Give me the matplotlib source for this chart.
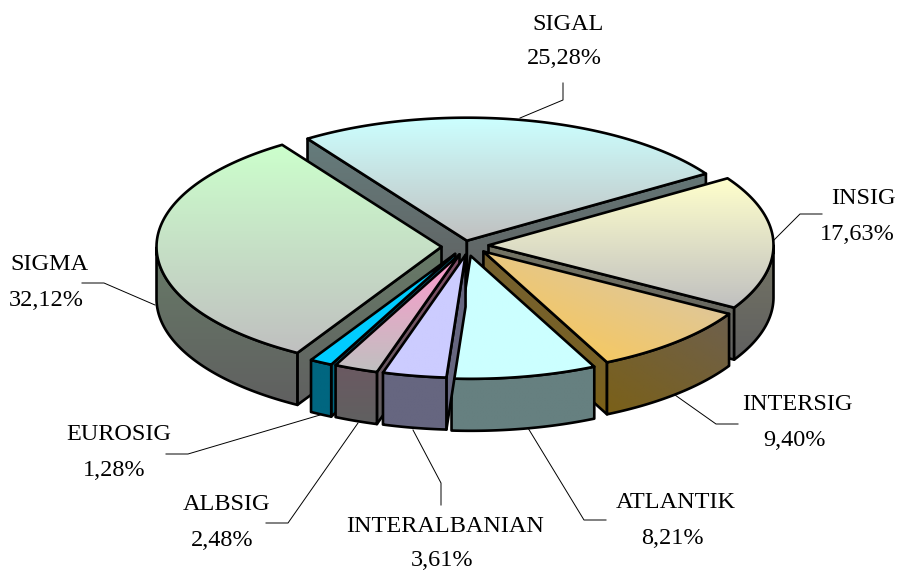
import numpy as np
import matplotlib
matplotlib.use("Agg")
import matplotlib.pyplot as plt
from matplotlib.patches import Polygon

names = ["SIGAL", "INSIG", "INTERSIG", "ATLANTIK", "INTERALBANIAN", "ALBSIG", "EUROSIG", "SIGMA"]
shares = [25.28, 17.63, 9.40, 8.21, 3.61, 2.48, 1.28, 32.12]

# couleurs : dessus (haut, bas), cote (haut, bas)
top_c1 = ["#CCFFFF", "#FFFFCC", "#D4C6B4", "#CCFFFF", "#CCCCFF", "#FF99CC", "#00CCFF", "#CCFFCC"]
top_c2 = ["#C0C0C0", "#C0C0C0", "#FFC94A", "#CCFFFF", "#CCCCFF", "#C0C0C0", "#00CCFF", "#C0C0C0"]
side_c1 = ["#668080", "#808066", "#6A6060", "#668080", "#666680", "#804C66", "#006680", "#6C8C6C"]
side_c2 = ["#606060", "#606060", "#806000", "#668080", "#666680", "#606060", "#006680", "#606060"]
diagonal = ["INTERSIG"]

# decalage de chaque part par rapport a l'eclatement commun
shift_x = [-1, 3, 5, 3, 6, 4, 2, 0]
shift_y = [3.5, -1, -2, 0, -1, -1, -1, 0]

# position des textes (nom, pourcentage)
name_pos = [(568, 24), (863, 199), (797, 404), (676, 503), (445, 527), (227, 505), (119, 435), (49, 264)]
pct_pos = [(564, 59), (857, 235), (794, 441), (672, 539), (442, 560), (222, 541), (114, 470), (46, 300)]
leaders = [
    [(520, 118), (563, 100), (563, 83)],
    [(773, 241), (800, 214), (822, 214)],
    [(675, 395), (716, 424), (738, 424)],
    [(528, 428), (584, 520), (606, 520)],
    [(413, 430), (441, 483), (441, 505)],
    [(358, 423), (288, 523), (266, 523)],
    [(320, 415), (188, 454), (166, 454)],
    [(155, 305), (104, 283), (82, 283)],
]

cx, cy = 463.5, 246.5
rx, ry = 285, 123
depth = 52
explode = 22
start = 124

fig = plt.figure(figsize=(8.97, 5.71), dpi=100)
ax = fig.add_axes([0, 0, 1, 1])
ax.axis("off")
ax.set_xlim(0, 897)
ax.set_ylim(571, 0)
ax.set_autoscale_on(False)


def rgb(c):
    return np.array(matplotlib.colors.to_rgb(c))


def fill(verts, c1, c2, diag, box, z):
    verts = np.array(verts)
    x0, y0, x1, y1 = box
    v, u = np.mgrid[0:1:64j, 0:1:64j]
    t = (v + 1 - u) / 2 if diag else v
    img = rgb(c1)[None, None, :] * (1 - t[..., None]) + rgb(c2)[None, None, :] * t[..., None]
    im = ax.imshow(img, extent=(x0, x1, y1, y0), origin="upper", aspect="auto",
                   interpolation="bilinear", zorder=z)
    edge = Polygon(verts, closed=True, fc="none", ec="black", lw=1.9, joinstyle="round", zorder=z + 0.5)
    ax.add_patch(edge)
    im.set_clip_path(Polygon(verts, closed=True, transform=ax.transData))


for pts in leaders:
    xs, ys = zip(*pts)
    ax.plot(xs, ys, color="black", lw=0.7, zorder=1)

total = sum(shares)
spans = [s / total * 360 for s in shares]
slices = []
a = start
for i, sp in enumerate(spans):
    slices.append((i, a, a - sp))
    a -= sp

# on dessine du fond vers l'avant
slices.sort(key=lambda s: -np.sin(np.radians((s[1] + s[2]) / 2)))

z = 2
for i, a1, a2 in slices:
    mid = np.radians((a1 + a2) / 2)
    tx = cx + explode * np.cos(mid) + shift_x[i]
    ty = cy - explode * ry / rx * np.sin(mid) + shift_y[i]
    th = np.radians(np.linspace(a1, a2, 120))
    ax_x = tx + rx * np.cos(th)
    ax_y = ty - ry * np.sin(th)
    top = [(tx, ty)] + list(zip(ax_x, ax_y))
    xs = [p[0] for p in top]
    ys = [p[1] for p in top]
    box = (min(xs), min(ys), max(xs), max(ys) + depth)
    diag = names[i] in diagonal

    # faces coupees visibles
    if np.sin(np.radians(a1 + 90)) < 0:
        p = (ax_x[0], ax_y[0])
        fill([(tx, ty), p, (p[0], p[1] + depth), (tx, ty + depth)], side_c1[i], side_c2[i], diag, box, z)
        z += 1
    if np.sin(np.radians(a2 - 90)) < 0:
        p = (ax_x[-1], ax_y[-1])
        fill([(tx, ty), p, (p[0], p[1] + depth), (tx, ty + depth)], side_c1[i], side_c2[i], diag, box, z)
        z += 1
    # bord exterieur
    front = np.sin(th) < 0
    if front.any():
        rim_x, rim_y = ax_x[front], ax_y[front]
        rim = list(zip(rim_x, rim_y)) + list(zip(rim_x[::-1], rim_y[::-1] + depth))
        fill(rim, side_c1[i], side_c2[i], diag, box, z)
        z += 1
    # dessus
    fill(top, top_c1[i], top_c2[i], diag, (min(xs), min(ys), max(xs), max(ys)), z)
    z += 1

for i, name in enumerate(names):
    ax.text(*name_pos[i], name, family="Liberation Serif", fontsize=17.5, ha="center", va="center", color="black", zorder=z)
    pct = f"{shares[i]:.2f}%".replace(".", ",")
    ax.text(*pct_pos[i], pct, family="Liberation Serif", fontsize=17.5, ha="center", va="center", color="black", zorder=z)

fig.savefig("out.png", dpi=100)
